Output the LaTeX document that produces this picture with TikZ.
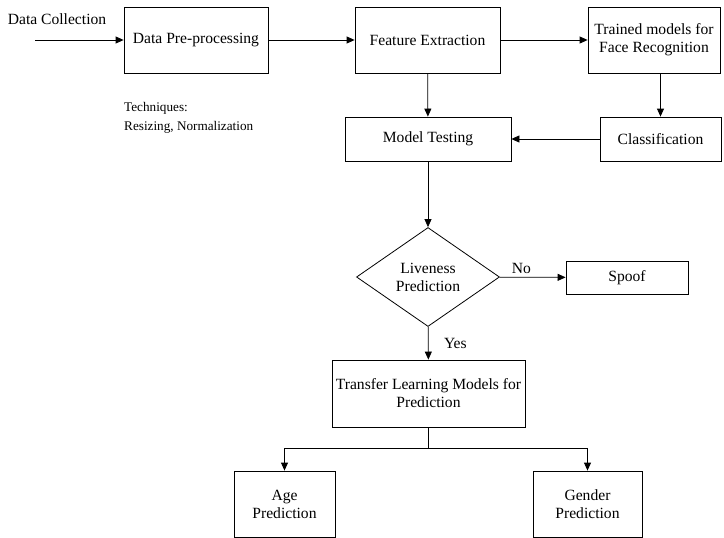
\documentclass[tikz,border=0pt]{standalone}
\usepackage{fontspec}
\setmainfont{Liberation Serif}
\usetikzlibrary{arrows.meta, positioning, shapes.geometric}

\begin{document}
\begin{tikzpicture}[
	x=1pt, y=-1pt,
	font=\fontsize{15.6}{18}\selectfont,
	box/.style = {draw, line width=0.8pt, inner sep=0pt, align=center},
	decide/.style = {draw, line width=0.8pt, diamond, aspect=1.44, inner sep=0pt,
		minimum width=143pt, minimum height=99pt, align=center},
	arr/.style = {line width=0.8pt, -{Triangle[length=8pt, width=7pt]}}
     ]
	\useasboundingbox (0,0) rectangle (724,538);
%
	\node (pre)      [box, minimum width=144pt, minimum height=66pt] at (196,40) {Data Pre-processing};
	\node (feat)     [box, minimum width=145pt, minimum height=66pt] at (427.5,40) {Feature Extraction};
	\node (trained)  [box, minimum width=132pt, minimum height=66pt] at (654,40) {Trained models for\\Face Recognition};
	\node (test)     [box, minimum width=166pt, minimum height=44pt] at (428,139) {Model Testing};
	\node (class)    [box, minimum width=121pt, minimum height=44pt] at (660.5,139) {Classification};
	\node (live)     [decide] at (428,277) {Liveness\\Prediction};
	\node (spoof)    [box, minimum width=122pt, minimum height=33pt] at (627,277.5) {Spoof};
	\node (transfer) [box, minimum width=193pt, minimum height=67pt] at (428.5,393.5) {Transfer Learning Models for\\Prediction};
	\node (age)      [box, minimum width=101pt, minimum height=66pt] at (284.5,504) {Age\\Prediction};
	\node (gender)   [box, minimum width=109pt, minimum height=66pt] at (587.5,504) {Gender\\Prediction};
%
	\node (collect) at (57,19) {Data Collection};
	\coordinate (in) at (35,40);
	\node (tech) [anchor=north west, align=left, inner sep=0pt,
		font=\fontsize{13.2}{19}\selectfont] at (124,102) {Techniques:\\Resizing, Normalization};
%
	\draw[arr] (in) -- (pre);
	\draw[arr] (pre) -- (feat);
	\draw[arr] (feat) -- (trained);
	\draw[arr] (feat) -- (test);
	\draw[arr] (trained.south -| class) -- (class);
	\draw[arr] (class) -- (test);
	\draw[arr] (test) -- (live);
	\draw[arr] (live) -- node[above, pos=0.33] (no) {No} (spoof);
	\draw[arr] (live) -- node[right, xshift=12pt] (yes) {Yes} (transfer);
	\draw[line width=0.8pt] (transfer.south) -- ++(0,21) coordinate (split);
	\draw[arr] (split) -| (age);
	\draw[arr] (split) -| (gender);
\end{tikzpicture}
\end{document}
